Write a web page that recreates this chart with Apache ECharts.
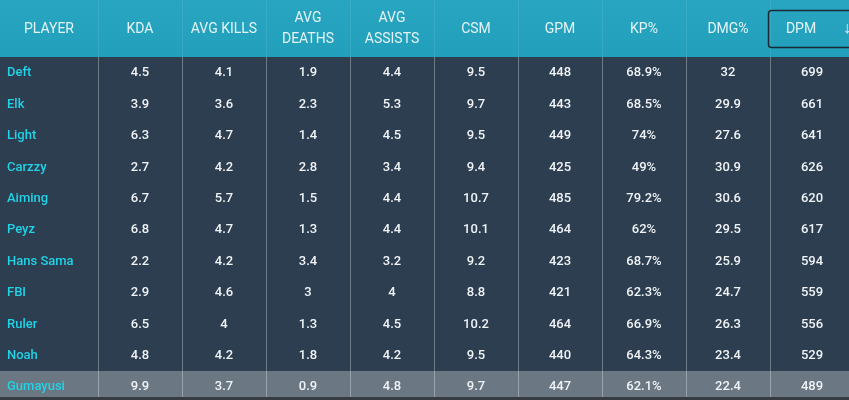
<!DOCTYPE html>
<html>
<head>
<meta charset="utf-8">
<script src="https://cdn.jsdelivr.net/npm/echarts@6/dist/echarts.min.js"></script>
<style>html,body{margin:0;padding:0;background:#2c3e50;}#c{width:849px;height:400px;}</style>
</head>
<body>
<div id="c"></div>
<script>
const headers = ['PLAYER','KDA','AVG KILLS','AVG\nDEATHS','AVG\nASSISTS','CSM','GPM','KP%','DMG%','DPM'];
const players = ['Deft','Elk','Light','Carzzy','Aiming','Peyz','Hans Sama','FBI','Ruler','Noah','Gumayusi'];
const kda = [4.5,3.9,6.3,2.7,6.7,6.8,2.2,2.9,6.5,4.8,9.9];
const avgKills = [4.1,3.6,4.7,4.2,5.7,4.7,4.2,4.6,4,4.2,3.7];
const avgDeaths = [1.9,2.3,1.4,2.8,1.5,1.3,3.4,3,1.3,1.8,0.9];
const avgAssists = [4.4,5.3,4.5,3.4,4.4,4.4,3.2,4,4.5,4.2,4.8];
const csm = [9.5,9.7,9.5,9.4,10.7,10.1,9.2,8.8,10.2,9.5,9.7];
const gpm = [448,443,449,425,485,464,423,421,464,440,447];
const kp = [68.9,68.5,74,49,79.2,62,68.7,62.3,66.9,64.3,62.1];
const dmg = [32,29.9,27.6,30.9,30.6,29.5,25.9,24.7,26.3,23.4,22.4];
const dpm = [699,661,641,626,620,617,594,559,556,529,489];
const highlighted = 'Gumayusi';

const valueCols = [kda, avgKills, avgDeaths, avgAssists, csm, gpm, kp, dmg, dpm];
const suffix = ['', '', '', '', '', '', '%', '', ''];
function cellText(c, r) {
  if (c === 0) return players[r];
  return String(valueCols[c - 1][r]) + suffix[c - 1];
}
const cells = [];
players.forEach((p, r) => { headers.forEach((h, c) => cells.push([c, r])); });

const BODY = '#2c3e50';
const chart = echarts.init(document.getElementById('c'), null, {renderer: 'canvas'});
chart.setOption({
  animation: false,
  backgroundColor: {type: 'linear', x: 0, y: 0, x2: 0, y2: 1, colorStops: [
    {offset: 0, color: '#28a6c1'}, {offset: 57/400, color: '#22a0bb'},
    {offset: 57/400, color: BODY}, {offset: 1, color: BODY}]},
  textStyle: {fontFamily: 'Roboto'},
  grid: {left: 14, top: 57, width: 840, height: 345.4, outerBoundsMode: 'none', containLabel: false},
  xAxis: {
    type: 'category', position: 'top', data: headers, boundaryGap: true,
    axisLine: {show: false},
    axisTick: {show: true, length: 57, interval: (i) => i > 0, lineStyle: {color: 'rgba(255,255,255,0.08)', width: 1}},
    splitLine: {show: true, interval: (i) => i > 0, lineStyle: {color: '#6e7a86', width: 1}},
    axisLabel: {
      interval: 0, margin: 28, verticalAlign: 'middle', color: '#e4f3f7', fontSize: 14, lineHeight: 21,
      fontFamily: 'Roboto',
      formatter: (v, i) => i === 0 ? '{p|' + v + '}' : (i === 9 ? '{d|' + v + '}{g|}{a|↓}' : v),
      rich: {
        p: {padding: [0, 14, 0, 0], fontSize: 14, color: '#e4f3f7', fontFamily: 'Roboto'},
        d: {padding: [0, 0, 0, 13], fontSize: 14, color: '#e4f3f7', fontFamily: 'Roboto'},
        g: {width: 27},
        a: {fontSize: 16, color: '#e4f3f7', fontFamily: 'Roboto'}
      }
    }
  },
  yAxis: {type: 'category', inverse: true, data: players, show: false},
  graphic: [
    {type: 'rect', shape: {x: 768.5, y: 10.5, width: 90, height: 37, r: 3}, style: {fill: 'none', stroke: '#1b2a35', lineWidth: 1.5}, z: 100},
    {type: 'rect', shape: {x: 0, y: 397, width: 849, height: 3}, style: {fill: '#363c42'}, z: 100}
  ],
  series: [{
    type: 'custom', data: cells, encode: {x: 0, y: 1},
    renderItem: (params, api) => {
      const c = api.value(0), r = api.value(1);
      const pt = api.coord([c, r]);
      const sz = api.size([1, 1]);
      const left = pt[0] - sz[0] / 2;
      const children = [];
      if (players[r] === highlighted) {
        const x0 = c === 0 ? 0 : left;
        children.push({type: 'rect', shape: {x: x0, y: pt[1] - sz[1] / 2, width: left + sz[0] - x0, height: sz[1]},
          style: {fill: 'rgba(255,255,255,0.3)'}});
      }
      children.push({type: 'text', style: {
        text: cellText(c, r), x: c === 0 ? left - 7 : pt[0], y: pt[1] + 0.5,
        align: c === 0 ? 'left' : 'center', verticalAlign: 'middle',
        fill: c === 0 ? '#22d2e6' : '#f0f3f6', font: '500 13px Roboto'}});
      return {type: 'group', children: children};
    }
  }]
});
</script>
</body>
</html>
